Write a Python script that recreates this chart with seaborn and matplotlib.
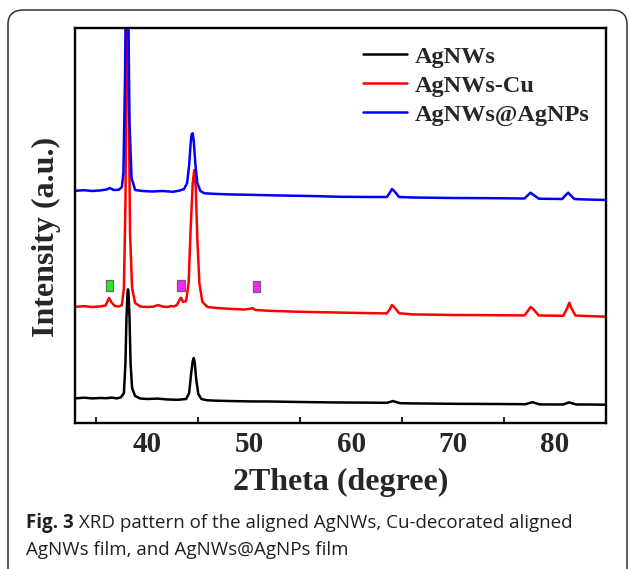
import matplotlib
matplotlib.use("Agg")
import matplotlib.pyplot as plt
import seaborn as sns
from matplotlib.path import Path
from matplotlib.patches import FancyBboxPatch

# 2theta / intensity values (arbitrary units)
ag_x = [33.0, 33.8, 34.6, 35.4, 36.0, 36.5, 37.0, 37.4, 37.7, 37.85, 37.95, 38.05, 38.1, 38.15,
        38.25, 38.35, 38.5, 38.8, 39.3, 40.0, 41.0, 42.0, 43.0, 43.8, 44.1, 44.3, 44.45, 44.55,
        44.65, 44.8, 45.0, 45.3, 45.8, 46.5, 48.0, 50.0, 52.0, 55.0, 58.0, 61.0, 63.5, 63.9,
        64.1, 64.4, 64.8, 66.0, 70.0, 74.0, 77.1, 77.6, 77.8, 78.1, 78.5, 80.8, 81.2, 81.4,
        81.7, 82.1, 83.0, 85.0]
ag_y = [24.7, 25.3, 24.6, 25.0, 24.8, 25.4, 24.6, 25.6, 30.0, 60.0, 105.0, 130.0, 133.7, 130.0,
        105.0, 60.0, 35.0, 27.0, 24.5, 24.0, 24.4, 23.5, 23.2, 24.0, 30.0, 50.0, 62.0, 65.0,
        60.0, 43.0, 29.0, 24.0, 22.8, 22.4, 22.0, 21.6, 21.5, 21.0, 20.6, 20.4, 20.2, 21.3,
        22.0, 21.0, 19.8, 19.6, 19.2, 19.0, 18.8, 20.3, 20.8, 19.8, 18.6, 18.5, 20.0, 20.6,
        19.6, 18.5, 18.5, 18.3]

cu_x = [33.0, 33.8, 34.6, 35.4, 35.9, 36.1, 36.25, 36.45, 36.8, 37.2, 37.5, 37.7, 37.85, 37.95,
        38.05, 38.15, 38.3, 38.5, 38.8, 39.3, 40.0, 40.6, 40.9, 41.1, 41.5, 42.0, 42.3, 42.6,
        42.9, 43.15, 43.3, 43.5, 43.8, 44.05, 44.25, 44.45, 44.6, 44.75, 44.9, 45.1, 45.4, 45.9,
        46.8, 48.0, 49.5, 50.1, 50.3, 50.6, 52.0, 55.0, 58.0, 61.0, 63.5, 63.8, 64.0, 64.3,
        64.7, 66.0, 70.0, 74.0, 77.0, 77.4, 77.6, 77.9, 78.4, 80.8, 81.2, 81.4, 81.6, 82.0,
        83.0, 85.0]
cu_y = [116.3, 116.8, 116.0, 116.6, 117.5, 122.0, 125.0, 121.0, 117.0, 116.5, 118.0, 135.0, 220.0, 350.0,
        450.0, 350.0, 190.0, 135.0, 120.0, 116.5, 116.0, 116.3, 117.5, 117.8, 116.4, 116.0, 117.0, 116.5,
        118.0, 123.0, 125.3, 121.0, 122.0, 140.0, 195.0, 240.0, 253.0, 235.0, 185.0, 140.0, 121.0, 116.0,
        115.0, 114.2, 113.5, 114.2, 114.8, 113.0, 112.2, 111.2, 110.6, 110.0, 109.6, 114.0, 118.0, 115.0,
        109.8, 108.6, 108.0, 107.8, 107.6, 113.0, 116.0, 113.5, 107.5, 107.2, 115.0, 120.3, 115.0, 107.5,
        107.0, 106.3]

np_x = [33.0, 33.8, 34.6, 35.4, 36.0, 36.3, 36.7, 37.2, 37.5, 37.65, 37.8, 37.9, 38.0, 38.1,
        38.25, 38.45, 38.8, 39.5, 40.5, 41.5, 42.5, 43.2, 43.6, 43.9, 44.1, 44.25, 44.35, 44.45,
        44.55, 44.7, 44.9, 45.2, 45.6, 46.5, 48.0, 50.0, 53.0, 56.0, 59.0, 62.0, 63.5, 63.8,
        64.0, 64.3, 64.7, 66.0, 70.0, 74.0, 77.0, 77.4, 77.6, 77.9, 78.4, 80.7, 81.1, 81.3,
        81.5, 81.9, 83.0, 85.0]
np_y = [232.3, 232.8, 232.0, 232.6, 233.5, 235.0, 233.0, 233.2, 236.0, 250.0, 340.0, 440.0, 470.0, 440.0,
        300.0, 245.0, 233.0, 232.0, 231.5, 232.0, 231.2, 232.5, 234.0, 240.0, 258.0, 280.0, 289.0, 289.7,
        282.0, 260.0, 240.0, 232.0, 229.7, 229.2, 228.6, 228.2, 227.5, 227.0, 226.2, 226.0, 226.0, 230.5,
        234.0, 231.0, 226.0, 225.5, 225.0, 224.8, 224.5, 228.5, 230.3, 228.0, 224.3, 224.0, 228.5, 230.3,
        228.0, 224.0, 223.5, 223.0]

series_names = ["AgNWs", "AgNWs-Cu", "AgNWs@AgNPs"]
series_colors = ["#000000", "#ff0000", "#0000ff"]

# phase markers above the Cu-decorated pattern
mark_x = [36.3, 43.3, 50.7]
mark_y = [137.3, 137.3, 136.3]
mark_colors = ["#22ee22", "#ff22ff", "#ff22ff"]

sns.set_style("white")
plt.rcParams["font.family"] = ["Liberation Serif", "DejaVu Serif"]
plt.rcParams["font.weight"] = "bold"

fig = plt.figure(figsize=(6.29, 5.69), dpi=100)
ax = fig.add_axes([75 / 629, 1 - 423 / 569, 531 / 629, 395 / 569])

for xs, ys, name, c in zip([ag_x, cu_x, np_x], [ag_y, cu_y, np_y], series_names, series_colors):
    sns.lineplot(x=xs, y=ys, color=c, lw=1.8, label=name, ax=ax, sort=False, estimator=None)

rect = Path([(-0.35, -0.5), (0.35, -0.5), (0.35, 0.5), (-0.35, 0.5), (-0.35, -0.5)],
            [Path.MOVETO, Path.LINETO, Path.LINETO, Path.LINETO, Path.CLOSEPOLY])
sns.scatterplot(x=mark_x, y=mark_y, marker=rect, s=60, c=mark_colors,
                edgecolor="#666666", linewidth=0.9, ax=ax, zorder=5, legend=False)

ax.set_xlim(32.9, 85)
ax.set_ylim(0, 395)
ax.set_xticks([40, 50, 60, 70, 80])
ax.set_xticks([35, 45, 55, 65, 75, 85], minor=True)
ax.set_yticks([])
ax.tick_params(axis="x", which="major", direction="in", length=6, width=1.5, labelsize=21, pad=6)
ax.tick_params(axis="x", which="minor", direction="in", length=4, width=1.5, bottom=True)
for s in ax.spines.values():
    s.set_linewidth(1.7)
    s.set_color("black")

ax.set_xlabel("2Theta (degree)", fontsize=23, fontweight="bold", labelpad=7)
ax.set_ylabel("Intensity (a.u.)", fontsize=23, fontweight="bold")
ax.yaxis.set_label_coords(-0.027, 0.47)

ax.legend(loc="upper left", bbox_to_anchor=((363 - 75) / 531, 0.955), frameon=False,
          prop={"family": "Liberation Serif", "weight": "bold", "size": 17.5},
          handlelength=1.8, handletextpad=0.35, labelspacing=0.28,
          borderpad=0, borderaxespad=0)

# outer rounded frame of the figure panel
box = FancyBboxPatch((8 / 629, -0.05), 619 / 629, 1.05 - 10 / 569,
                     boxstyle="round,pad=0,rounding_size=0.025", transform=fig.transFigure,
                     facecolor="none", edgecolor="#333333", lw=1.1)
fig.patches.append(box)

cap_size = 13.5
cap = fig.text(26 / 629, 1 - 523 / 569, "Fig. 3", family="Open Sans", weight="bold",
               size=cap_size, color="#231f20", va="center")
ax.annotate(" XRD pattern of the aligned AgNWs, Cu-decorated aligned", xy=(1, 0.5),
            xycoords=cap, va="center", ha="left", family="Open Sans", weight="normal",
            size=cap_size, color="#231f20", annotation_clip=False)
fig.text(26 / 629, 1 - 550 / 569, "AgNWs film, and AgNWs@AgNPs film", family="Open Sans",
         weight="normal", size=cap_size, color="#231f20", va="center")

fig.savefig("out.png", dpi=100)
